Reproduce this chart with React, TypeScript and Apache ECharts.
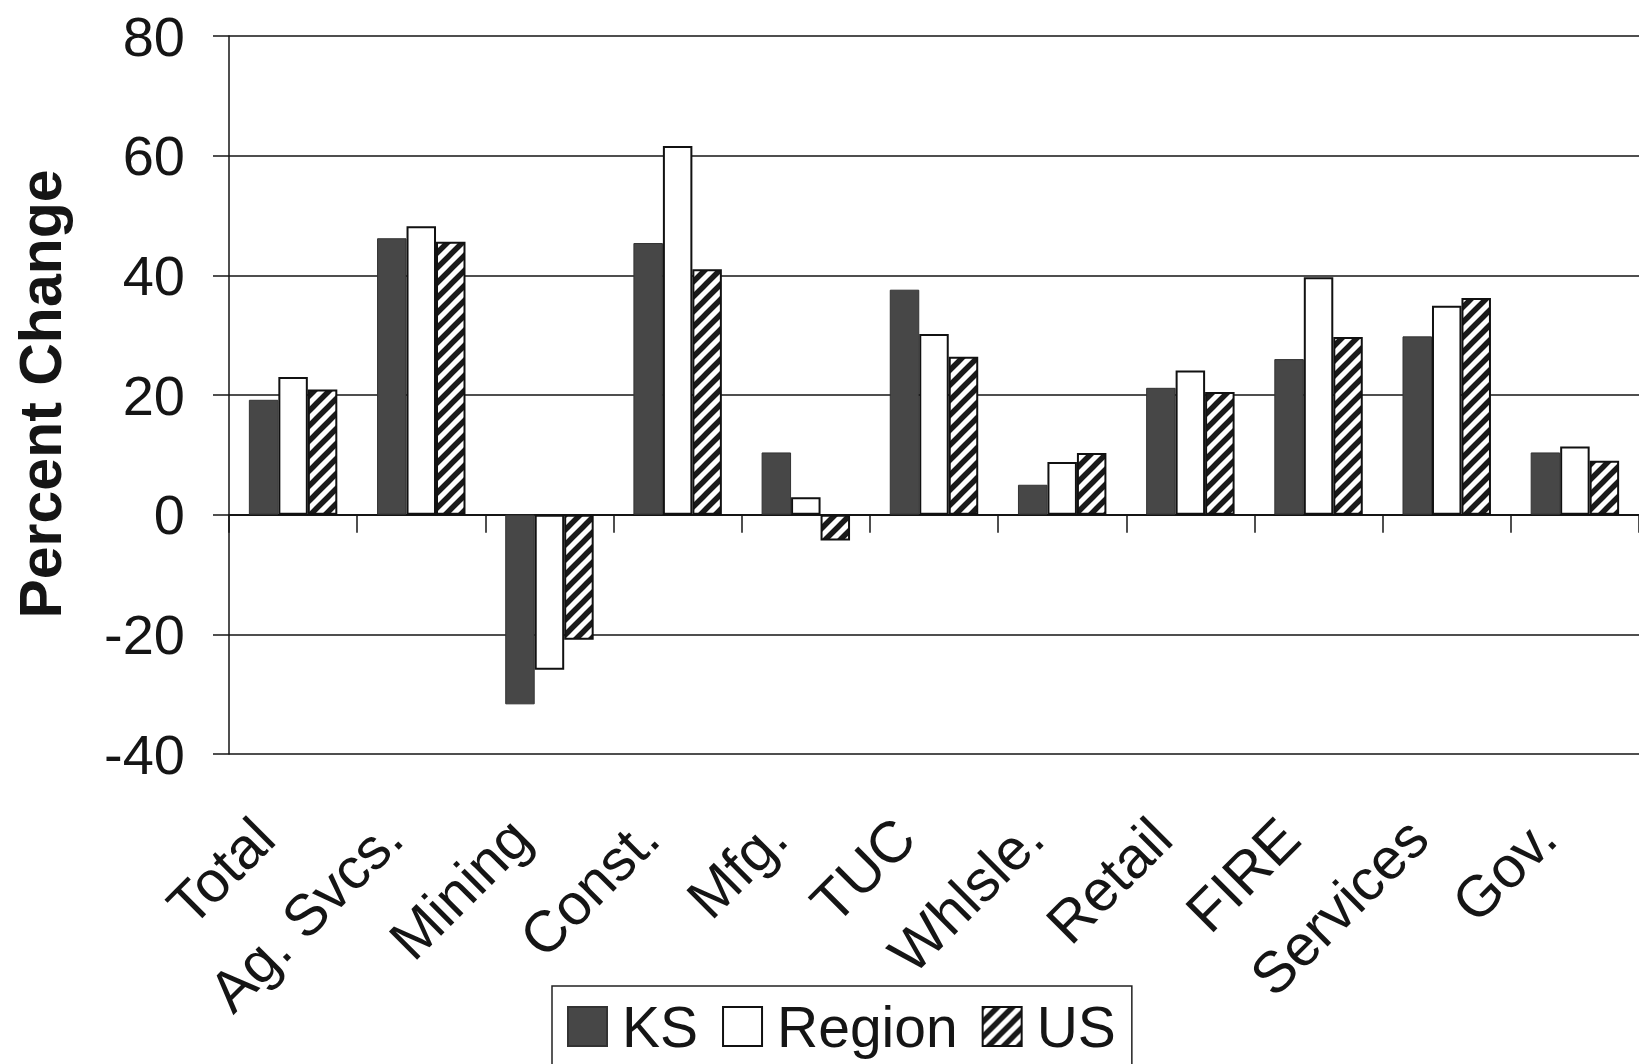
import React, { useEffect, useRef } from "react";
import * as echarts from "echarts";

// Employment change by industry, percent
const categories = [
  "Total",
  "Ag. Svcs.",
  "Mining",
  "Const.",
  "Mfg.",
  "TUC",
  "Whlsle.",
  "Retail",
  "FIRE",
  "Services",
  "Gov.",
];
const ksValues = [19.2, 46.2, -31.7, 45.4, 10.4, 37.6, 5.0, 21.2, 26.0, 29.8, 10.4];
const regionValues = [23.0, 48.2, -25.9, 61.6, 2.9, 30.2, 8.8, 24.1, 39.7, 34.9, 11.4];
const usValues = [20.9, 45.6, -20.9, 41.0, -4.3, 26.4, 10.3, 20.5, 29.7, 36.2, 9.0];

const yMin = -40;
const yMax = 80;
const yStep = 20;

const FONT = '"Liberation Sans", Arial, sans-serif';
const INK = "#151515";

// Diagonal "/" hatch used for the US bars
function makeHatch(): HTMLCanvasElement {
  const p = 15;
  const c = document.createElement("canvas");
  c.width = p;
  c.height = p;
  const ctx = c.getContext("2d")!;
  ctx.fillStyle = "#ffffff";
  ctx.fillRect(0, 0, p, p);
  ctx.strokeStyle = "#1a1a1a";
  ctx.lineWidth = 5.5;
  ctx.beginPath();
  for (const k of [-p, 0, p]) {
    ctx.moveTo(k - p, 2 * p);
    ctx.lineTo(k + 2 * p, -p);
  }
  ctx.stroke();
  return c;
}

export default function App() {
  const ref = useRef<HTMLDivElement>(null);

  useEffect(() => {
    if (!ref.current) return;
    const chart = echarts.init(ref.current, undefined, { renderer: "svg" });
    const hatch = {
      image: makeHatch(),
      repeat: "repeat",
      imageWidth: 15,
      imageHeight: 15,
    };

    chart.setOption({
      animation: false,
      backgroundColor: "#ffffff",
      grid: { left: 229, right: -9, top: 36, bottom: 310, containLabel: false },
      legend: {
        left: 552,
        top: 986,
        orient: "horizontal",
        itemWidth: 39,
        itemHeight: 39,
        itemGap: 24,
        padding: [12, 16, 12, 15],
        borderColor: "#222",
        borderWidth: 1.5,
        textStyle: {
          fontSize: 57,
          fontFamily: FONT,
          color: INK,
          padding: [0, 0, 0, 10],
        },
        data: [
          { name: "KS", icon: "rect" },
          { name: "Region", icon: "rect" },
          { name: "US", icon: "rect" },
        ],
      },
      xAxis: [
        {
          type: "category",
          data: categories,
          position: "bottom",
          axisLine: { show: true, onZero: true, lineStyle: { color: INK, width: 2 } },
          axisTick: { show: true, length: 18, interval: 0, lineStyle: { color: INK, width: 1.5 } },
          axisLabel: { show: false },
          splitLine: { show: false },
        },
        {
          type: "category",
          data: categories,
          position: "bottom",
          axisLine: { show: false, onZero: false },
          axisTick: { show: false },
          axisLabel: {
            show: true,
            interval: 0,
            rotate: 45,
            margin: 45,
            padding: [0, 41, 0, 0],
            fontSize: 58,
            fontFamily: FONT,
            color: INK,
          },
          splitLine: { show: false },
        },
      ],
      yAxis: {
        type: "value",
        min: yMin,
        max: yMax,
        interval: yStep,
        axisLine: { show: true, lineStyle: { color: INK, width: 1.5 } },
        axisTick: { show: true, length: 16, lineStyle: { color: INK, width: 1.5 } },
        axisLabel: { fontSize: 56, fontFamily: FONT, color: INK, margin: 44 },
        splitLine: { show: true, lineStyle: { color: INK, width: 1.5 } },
      },
      graphic: [
        {
          type: "text",
          x: 41,
          y: 394,
          rotation: Math.PI / 2,
          style: {
            text: "Percent Change",
            font: `bold 59px ${FONT}`,
            fill: INK,
            textAlign: "center",
            textVerticalAlign: "middle",
          },
        },
      ],
      series: [
        {
          name: "KS",
          type: "bar",
          data: ksValues,
          barGap: "0%",
          barCategoryGap: "31%",
          itemStyle: { color: "#474747", borderColor: "#333", borderWidth: 1 },
        },
        {
          name: "Region",
          type: "bar",
          data: regionValues,
          barGap: "0%",
          barCategoryGap: "31%",
          itemStyle: { color: "#ffffff", borderColor: "#111", borderWidth: 2 },
        },
        {
          name: "US",
          type: "bar",
          data: usValues,
          barGap: "0%",
          barCategoryGap: "31%",
          itemStyle: { color: hatch, borderColor: "#111", borderWidth: 2 },
        },
      ],
    });

    return () => chart.dispose();
  }, []);

  return (
    <div
      ref={ref}
      style={{ position: "absolute", left: 0, top: 0, width: 1639, height: 1064, background: "#fff" }}
    />
  );
}
